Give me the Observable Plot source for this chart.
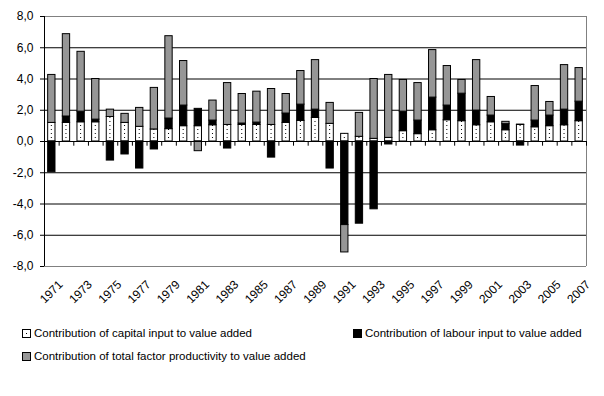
<!DOCTYPE html>
<html>
<head>
<meta charset="utf-8">
<script src="https://cdn.jsdelivr.net/npm/d3@7"></script>
<script src="https://cdn.jsdelivr.net/npm/@observablehq/plot@0.6"></script>
<style>
  html, body { margin: 0; padding: 0; background: #fff; }
  #wrap { position: relative; width: 604px; height: 396px; font-family: Arial, "Liberation Sans", sans-serif; font-size: 11.5px; color: #000; }
  .leg { position: absolute; display: flex; align-items: center; white-space: nowrap; line-height: 14px; }
  .box { width: 7px; height: 7px; border: 1px solid #000; margin-right: 3px; box-sizing: content-box; position: relative; }
</style>
</head>
<body>
<div id="wrap"><div id="chart"></div></div>
<script>
const years = [1971,1972,1973,1974,1975,1976,1977,1978,1979,1980,1981,1982,1983,1984,1985,1986,1987,1988,1989,1990,1991,1992,1993,1994,1995,1996,1997,1998,1999,2000,2001,2002,2003,2004,2005,2006,2007];
const capital = [1.19,1.19,1.23,1.23,1.57,1.19,0.94,0.77,0.79,0.98,0.98,1.04,1.06,1.06,1.06,1.06,1.19,1.32,1.51,1.13,0.49,0.30,0.17,0.23,0.66,0.47,0.72,1.36,1.30,1.04,1.23,0.72,1.06,0.91,0.98,1.04,1.30];
const labour = [-1.97,0.41,0.68,0.17,-1.22,-0.83,-1.73,-0.51,0.68,1.32,1.11,0.30,-0.45,0.09,0.15,-1.03,0.60,1.04,0.53,-1.73,-5.35,-5.26,-4.34,-0.19,1.25,0.87,2.09,0.94,1.76,0.94,0.43,0.39,-0.26,0.43,0.68,1.00,1.25];
const tfp = [3.07,5.27,3.83,2.60,0.47,0.58,1.21,2.66,5.27,2.85,-0.62,1.28,2.68,1.89,1.98,2.30,1.25,2.15,3.17,1.34,-1.75,1.53,3.83,4.03,2.03,2.40,3.04,2.53,0.88,3.23,1.19,0.15,0.02,2.21,0.87,2.85,2.15];
const seriesNames = [
  "Contribution of capital input to value added",
  "Contribution of labour input to value added",
  "Contribution of total factor productivity to value added"
];
const yTicks = [-8,-6,-4,-2,0,2,4,6,8];
const xLabelYears = [1971,1973,1975,1977,1979,1981,1983,1985,1987,1989,1991,1993,1995,1997,1999,2001,2003,2005,2007];

const fills = ["url(#dots)", "#000000", "#969696"];
const seriesValues = [capital, labour, tfp];

const rows = [];
years.forEach((yr, i) => {
  seriesValues.forEach((vals, s) => {
    rows.push({year: yr, x1: yr - 0.5, x2: yr + 0.5, series: seriesNames[s], s, value: vals[i]});
  });
});

const W = 604, H = 320, ML = 44, MR = 18, MT = 16, MB = 54;
const step = (W - ML - MR) / years.length;
const bounds = [years[0] - 0.5, ...years.map(y => y + 0.5)];

const chart = Plot.plot({
  width: W, height: H,
  marginLeft: ML, marginRight: MR, marginTop: MT, marginBottom: MB,
  style: {fontFamily: "Arial, 'Liberation Sans', sans-serif", fontSize: "12px", color: "#000", background: "#fff", overflow: "visible"},
  x: {domain: [years[0] - 0.5, years[years.length - 1] + 0.5], ticks: xLabelYears, tickFormat: d => String(d), tickSize: 0, tickRotate: -45, tickPadding: 10, label: null},
  y: {domain: [-8, 8], ticks: yTicks, tickSize: 4, tickPadding: 7, tickFormat: d => d.toFixed(1).replace(".", ","), label: null},
  marks: [
    Plot.ruleY(yTicks.filter(d => Math.abs(d) !== 8 && d !== 0), {stroke: "#000", strokeOpacity: 1}),
    Plot.ruleY([8, -8], {stroke: "#808080"}),
    Plot.ruleX([years[years.length - 1] + 0.5], {stroke: "#808080"}),
    Plot.rectY(rows, Plot.stackY({
      x1: "x1", x2: "x2", y: "value", z: "s",
      fill: d => fills[d.s], stroke: "#000", strokeWidth: 1,
      insetLeft: step * 0.25, insetRight: step * 0.25
    })),
    Plot.ruleY([0], {stroke: "#000"}),
    Plot.ruleX(bounds, {y1: 0, y2: -0.3, stroke: "#000"}),
    Plot.ruleX([years[0] - 0.5], {stroke: "#000"})
  ]
});

// dotted pattern for capital
const svg = d3.select(chart.tagName.toLowerCase() === "svg" ? chart : chart.querySelector("svg"));
const defs = svg.insert("defs", ":first-child");
const pat = defs.append("pattern").attr("id", "dots").attr("patternUnits", "userSpaceOnUse")
  .attr("x", ML + step / 2 - 0.5).attr("y", 0).attr("width", step).attr("height", 4);
pat.append("rect").attr("width", step).attr("height", 4).attr("fill", "#fff");
pat.append("rect").attr("x", 0).attr("y", 1).attr("width", 1).attr("height", 1).attr("fill", "#000");

// shift rotated x tick labels to sit like the original
svg.selectAll("g[aria-label='x-axis tick label'], g[aria-label='x-axis']").each(function() {
  const g = d3.select(this);
  const tr = g.attr("transform") || "";
  g.attr("transform", "translate(9,6) " + tr);
});

document.getElementById("chart").appendChild(chart);

// legend
const wrap = document.getElementById("wrap");
const legPos = [{left: 22, top: 326}, {left: 353, top: 326}, {left: 22, top: 349}];
const boxFills = ["#fff", "#000", "#969696"];
seriesNames.forEach((name, i) => {
  const item = document.createElement("div");
  item.className = "leg";
  item.style.left = legPos[i].left + "px";
  item.style.top = legPos[i].top + "px";
  const box = document.createElement("span");
  box.className = "box";
  box.style.background = boxFills[i];
  if (i === 0) {
    const dot = document.createElement("span");
    dot.style.cssText = "position:absolute;left:3px;top:3px;width:1px;height:1px;background:#000;";
    box.appendChild(dot);
  }
  item.appendChild(box);
  const t = document.createElement("span");
  t.textContent = name;
  item.appendChild(t);
  wrap.appendChild(item);
});
</script>
</body>
</html>
